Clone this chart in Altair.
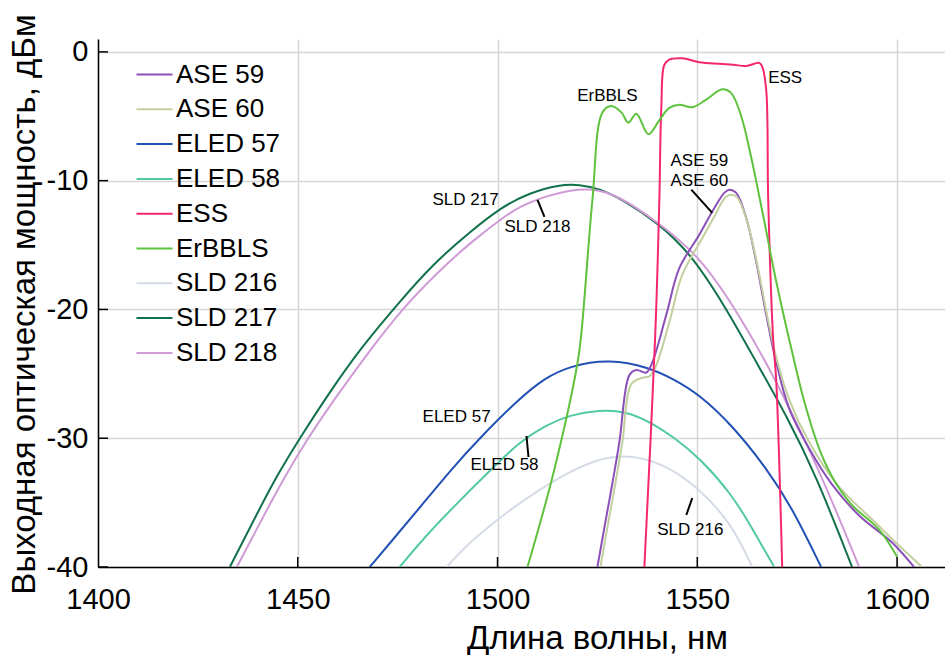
import altair as alt
import pandas as pd

# ---- data ----
series_names = ["ASE 59", "ASE 60", "ELED 57", "ELED 58", "ESS", "ErBBLS",
                "SLD 216", "SLD 217", "SLD 218"]
series_colors = ["#8b4fb8", "#c2cf9f", "#2251b5", "#52c9a2", "#f4266f", "#5ec23c",
                 "#d5dbe6", "#11714a", "#cf9ad6"]
broad_series = ["ELED 57", "ELED 58", "SLD 216", "SLD 217", "SLD 218"]

ase59_x = [1525, 1527, 1528.75, 1530.5, 1533, 1534.75, 1537.25, 1538.75, 1542.25, 1545.5,
           1550.5, 1553.75, 1556.75, 1558, 1559.75, 1562.25, 1564.75, 1567.25, 1569.75,
           1573, 1578, 1583.75, 1590.5, 1598.75, 1604.25]
ase59_y = [-40, -36.5, -33.5, -30.3, -25.1, -24.7, -24.9, -24.1, -20.4, -16.8,
           -14.2, -12.4, -10.95, -10.7, -10.95, -12.9, -16.3, -20.4, -24.1,
           -27.7, -30.8, -33.6, -36.0, -38.1, -40]

ase60_x = [1525.75, 1527.75, 1529.5, 1531.25, 1533.5, 1536.25, 1538, 1539.5, 1543, 1546.25,
           1551, 1554.25, 1557, 1558.5, 1560, 1562.5, 1565, 1567.5, 1570, 1573.25, 1578,
           1585, 1594.75, 1600, 1606.25]
ase60_y = [-40, -36.5, -33.5, -30.3, -25.8, -25.3, -25.2, -24.5, -21, -17.3,
           -14.6, -12.8, -11.3, -11.1, -11.3, -13.2, -16.5, -20.5, -24.0, -27.2, -30.3,
           -33.6, -36.6, -38.2, -40]

eled57_x = [1468, 1474, 1480.5, 1488.75, 1495.5, 1505.5, 1512, 1518, 1528, 1538, 1544,
            1550.5, 1558.75, 1567.25, 1573.75, 1581]
eled57_y = [-40, -37.8, -35.4, -32.3, -30, -26.9, -25.3, -24.4, -23.85, -24.5, -25.4,
            -26.6, -29.0, -32.3, -35.4, -40]

eled58_x = [1475.5, 1482, 1488.75, 1498.75, 1505.5, 1512, 1518, 1525.5, 1532, 1538, 1544,
            1550.5, 1558.75, 1563.75, 1569.25]
eled58_y = [-40, -37.6, -35.4, -32.3, -30.3, -29.0, -28.2, -27.8, -27.9, -28.7, -29.9,
            -31.5, -34.4, -37.0, -40]

ess_x = [1536.75, 1539.5, 1540.5, 1541, 1541.75, 1543, 1546.25, 1550.5, 1555.5, 1559,
         1562.25, 1565.5, 1566.25, 1567.25, 1567.75, 1569, 1569.75, 1571.25]
ess_y = [-40, -21.8, -11.5, -4.3, -1.0, -0.6, -0.5, -0.8, -0.93, -1.0, -1.1, -0.85,
         -1.15, -2.95, -11.5, -22.4, -25.5, -40]

erbbls_x = [1507.5, 1514, 1520, 1521, 1523.75, 1526.25, 1528.5, 1531, 1532.75, 1534.75,
            1537.75, 1540.5, 1543, 1545.5, 1548.75, 1552.25, 1556.25, 1558.5, 1561,
            1563.5, 1565.5, 1567.25, 1569, 1570.5, 1573.5, 1577, 1581, 1584.5, 1588.75,
            1595.5, 1600]
erbbls_y = [-40, -32.7, -24.2, -21.8, -11.5, -4.7, -4.2, -4.7, -5.5, -4.8, -6.4, -5.3,
            -4.35, -4.1, -4.3, -3.7, -2.9, -3.2, -5.0, -8.2, -11.2, -13.9, -16.7, -18.9,
            -23, -27.4, -31.2, -33.4, -35.2, -37.1, -39.2]

sld216_x = [1487.25, 1492, 1497.25, 1505.5, 1515.5, 1525.5, 1533.75, 1542.25, 1550.5,
            1558.75, 1563.75]
sld216_y = [-40, -38.4, -37.0, -35.0, -33.0, -31.5, -31.3, -32.1, -33.9, -36.7, -40]

sld217_x = [1433, 1438.75, 1444.75, 1450.5, 1458, 1466.25, 1475.5, 1483.75, 1493, 1501.25,
            1508, 1515.5, 1520.5, 1525.5, 1532, 1539.75, 1548, 1557.25, 1564.75, 1572.25,
            1579.75, 1588.75]
sld217_y = [-40, -36.5, -32.9, -30.0, -26.4, -22.8, -19.4, -16.5, -14.0, -12.0,
            -10.95, -10.3, -10.3, -10.6, -11.6, -13.2, -15.5, -19.9, -24.1, -28.2,
            -32.9, -40]

sld218_x = [1434.75, 1440.5, 1446.5, 1452.5, 1460, 1468, 1476, 1485, 1494, 1501.25,
            1505.5, 1512, 1518, 1523.5, 1530, 1540, 1550.5, 1560.5, 1569.75, 1579,
            1585, 1590.5]
sld218_y = [-40, -36.6, -33.1, -30, -26.6, -23.2, -20, -17.1, -14.6, -12.9,
            -12.0, -11.2, -10.75, -10.6, -11.1, -13.2, -15.8, -20.4, -25.5, -31.5,
            -35.8, -40]

x_ticks = [1400, 1450, 1500, 1550, 1600]
y_ticks = [0, -10, -20, -30, -40]

# in-plot annotations (label text, anchor in data units)
ann_text = ["ErBBLS", "ESS", "ASE 59", "ASE 60", "SLD 217", "SLD 218", "ELED 57",
            "ELED 58", "SLD 216"]
ann_x = [1527.5, 1572, 1550.5, 1550.5, 1492, 1510, 1489.75, 1501.75, 1548.25]
ann_y = [-3.42, -2.02, -8.5, -10.05, -11.5, -13.6, -28.35, -32.08, -37.13]

# leader lines
lead_x1 = [1510, 1548.5, 1507.25, 1548.75]
lead_y1 = [-11.5, -10.7, -29.83, -34.64]
lead_x2 = [1511.75, 1553.75, 1507.75, 1547.25]
lead_y2 = [-12.82, -12.5, -31.46, -35.96]

# ---- build tables ----
xs = [ase59_x, ase60_x, eled57_x, eled58_x, ess_x, erbbls_x, sld216_x, sld217_x, sld218_x]
ys = [ase59_y, ase60_y, eled57_y, eled58_y, ess_y, erbbls_y, sld216_y, sld217_y, sld218_y]
rows = []
for name, sx, sy in zip(series_names, xs, ys):
    for a, b in zip(sx, sy):
        rows.append({"series": name, "wl": a, "p": b, "broad": name in broad_series})
df = pd.DataFrame(rows)
ann_df = pd.DataFrame({"t": ann_text, "x": ann_x, "y": ann_y})
lead_df = pd.DataFrame({"x1": lead_x1, "y1": lead_y1, "x2": lead_x2, "y2": lead_y2})
xt_df = pd.DataFrame({"v": x_ticks[1:]})
yt_df = pd.DataFrame({"v": y_ticks})

FONT = "Liberation Sans"
W, H = 847, 528

xscale = alt.Scale(domain=[1400, 1612], nice=False, zero=False)
yscale = alt.Scale(domain=[-40, 1], nice=False, zero=False)

x_axis = alt.Axis(values=x_ticks, title="Длина волны, нм", grid=True, ticks=False,
                  labelFontSize=29, labelPadding=18, labelFont=FONT, labelColor="black",
                  titleFont=FONT, titleFontSize=33, titleFontWeight="normal",
                  titleColor="black", titleX=499, titleY=81, titleBaseline="alphabetic",
                  titleAlign="center", format="d", domainColor="black", domainWidth=1.5,
                  gridColor="#d6d6d6", gridWidth=1.5, labelFlush=False)
y_axis = alt.Axis(values=y_ticks, title="Выходная оптическая мощность, дБм", grid=True,
                  ticks=False, labelFontSize=29, labelPadding=10, labelFont=FONT,
                  labelColor="black",
                  labelExpr="datum.value < 0 ? '-' + abs(datum.value) : '' + datum.value",
                  titleFont=FONT, titleFontSize=33,
                  titleFontWeight="normal", titleColor="black", titleAngle=270,
                  titleX=-64, titleY=265, titleBaseline="alphabetic", titleAlign="center",
                  domainColor="black", domainWidth=1.5, gridColor="#d6d6d6",
                  gridWidth=1.5, labelFlush=False)

color_enc = alt.Color("series:N", sort=series_names,
                      scale=alt.Scale(domain=series_names, range=series_colors),
                      legend=alt.Legend(title=None, orient="none", legendX=37, legendY=16,
                                        symbolType="stroke", symbolSize=1300,
                                        symbolStrokeWidth=2, labelFontSize=26,
                                        labelFont=FONT, labelColor="black", labelOffset=2,
                                        rowPadding=1.8, padding=0))

base = alt.Chart(df).encode(
    x=alt.X("wl:Q", scale=xscale, axis=x_axis),
    y=alt.Y("p:Q", scale=yscale, axis=y_axis),
    color=color_enc,
    order=alt.Order("wl:Q"),
)
broad_lines = base.transform_filter("datum.broad").mark_line(
    strokeWidth=2, interpolate="basis", clip=True)
sharp_lines = base.transform_filter("!datum.broad").mark_line(
    strokeWidth=2, interpolate="catmull-rom", clip=True)

labels = alt.Chart(ann_df).mark_text(fontSize=17, font=FONT, color="black").encode(
    x=alt.X("x:Q", scale=xscale), y=alt.Y("y:Q", scale=yscale), text="t:N")

leaders = alt.Chart(lead_df).mark_rule(color="black", strokeWidth=2).encode(
    x=alt.X("x1:Q", scale=xscale), y=alt.Y("y1:Q", scale=yscale),
    x2="x2:Q", y2="y2:Q")

ytick_marks = alt.Chart(yt_df).mark_rule(color="black", strokeWidth=1.5).encode(
    y=alt.Y("v:Q", scale=yscale), x=alt.value(0), x2=alt.value(10))
xtick_marks = alt.Chart(xt_df).mark_rule(color="black", strokeWidth=1.5).encode(
    x=alt.X("v:Q", scale=xscale), y=alt.value(H), y2=alt.value(H - 10))

chart = alt.layer(broad_lines, sharp_lines, ytick_marks, xtick_marks, leaders,
                  labels).properties(
    width=W, height=H,
    padding={"left": 98, "top": 39, "right": 0, "bottom": 88},
    autosize=alt.AutoSizeParams(type="none"),
    background="white",
).configure_view(strokeWidth=0)

chart.save("out.html", embed_options={"renderer": "svg", "actions": False})
